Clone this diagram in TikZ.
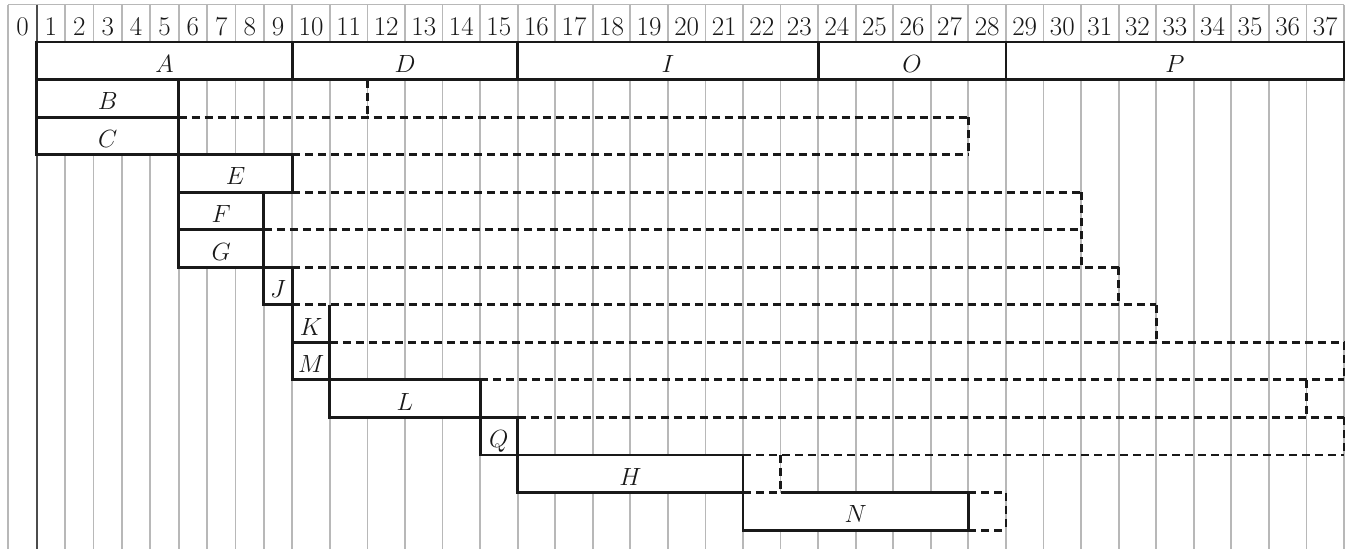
\documentclass[tikz,border=0pt]{standalone}
\begin{document}
\begin{tikzpicture}[x=1pt,y=-1pt,
  declare function={tx(\p)=(\p<9.5)*(36.7+28.4*\p)+(\p>9.5)*(292.3+37.56*(\p-9)); ry(\p)=4.5+37.54*\p;},
  gridline/.style={draw=black!28, line width=1.8},
  zeroline/.style={draw=black!70, line width=1.8},
  taskbox/.style={draw=black!90, line width=2.9, fill=white},
  taskedge/.style={draw=black!90, line width=2.9},
  slackline/.style={draw=black!90, line width=2.9, dash pattern=on 8 off 5},
  lbl/.style={font=\fontsize{27}{32}\selectfont, text=black!90, inner sep=0pt, anchor=base},
]
\useasboundingbox (0,0) rectangle (1352,549);
% grid
\foreach \k in {-1,0,...,37} \draw[gridline] ({tx(\k)},{ry(0)}) -- ({tx(\k)},549);
\draw[gridline] ({tx(-1)},{ry(0)}) -- ({tx(37)},{ry(0)});
\draw[zeroline] ({tx(0)},{ry(0)}) -- ({tx(0)},549);
% header numbers
\foreach \k in {0,...,37} \node[lbl] (h\k) at ({(tx(\k-1)+tx(\k))/2},{ry(0)+30.6}) {\k};
% task bars
\newcommand\taskbar[4]{%
  \draw[taskbox] ({tx(#3)},{ry(#2)}) rectangle ({tx(#4)},{ry(#2+1)});
  \node[lbl] (n#1) at ({(tx(#3)+tx(#4))/2},{ry(#2)+30.3}) {$#1$};}
\taskbar{A}{1}{0}{9}
\taskbar{D}{1}{9}{15}
\taskbar{I}{1}{15}{23}
\taskbar{O}{1}{23}{28}
\taskbar{P}{1}{28}{37}
\taskbar{B}{2}{0}{5}
\taskbar{C}{3}{0}{5}
\taskbar{E}{4}{5}{9}
\taskbar{F}{5}{5}{8}
\taskbar{G}{6}{5}{8}
\taskbar{J}{7}{8}{9}
\taskbar{M}{9}{9}{10}
\taskbar{L}{10}{10}{14}
\taskbar{Q}{11}{14}{15}
\taskbar{H}{12}{15}{21}
% K (top edge dashed)
\fill[white] ({tx(9)},{ry(8)}) rectangle ({tx(10)},{ry(9)});
\draw[taskedge] ({tx(9)},{ry(8)}) -- ({tx(9)},{ry(9)}) -- ({tx(10)},{ry(9)}) -- ({tx(10)},{ry(8)});
\node[lbl] (nK) at ({(tx(9)+tx(10))/2},{ry(8)+30.3}) {$K$};
% N (part of top edge dashed)
\fill[white] ({tx(21)},{ry(13)}) rectangle ({tx(27)},{ry(14)});
\draw[taskedge] ({tx(22)},{ry(13)}) -- ({tx(27)},{ry(13)}) -- ({tx(27)},{ry(14)}) -- ({tx(21)},{ry(14)}) -- ({tx(21)},{ry(13)});
\node[lbl] (nN) at ({(tx(21)+tx(27))/2},{ry(13)+30.3}) {$N$};
% slack: horizontal dashed lines
\draw[slackline] ({tx(5)},{ry(3)}) -- ({tx(27)},{ry(3)});
\draw[slackline] ({tx(9)},{ry(4)}) -- ({tx(27)},{ry(4)});
\draw[slackline] ({tx(9)},{ry(5)}) -- ({tx(30)},{ry(5)});
\draw[slackline] ({tx(8)},{ry(6)}) -- ({tx(30)},{ry(6)});
\draw[slackline] ({tx(9)},{ry(7)}) -- ({tx(31)},{ry(7)});
\draw[slackline] ({tx(9)},{ry(8)}) -- ({tx(32)},{ry(8)});
\draw[slackline] ({tx(10)},{ry(9)}) -- ({tx(37)},{ry(9)});
\draw[slackline] ({tx(14)},{ry(10)}) -- ({tx(37)},{ry(10)});
\draw[slackline] ({tx(15)},{ry(11)}) -- ({tx(37)},{ry(11)});
\draw[slackline] ({tx(21)},{ry(12)}) -- ({tx(37)},{ry(12)});
\draw[slackline] ({tx(21)},{ry(13)}) -- ({tx(22)},{ry(13)});
\draw[slackline] ({tx(27)},{ry(13)}) -- ({tx(28)},{ry(13)});
\draw[slackline] ({tx(27)},{ry(14)}) -- ({tx(28)},{ry(14)});
% slack: vertical dashed lines
\draw[slackline] ({tx(11)},{ry(2)}) -- ({tx(11)},{ry(3)});
\draw[slackline] ({tx(27)},{ry(3)}) -- ({tx(27)},{ry(4)});
\draw[slackline] ({tx(30)},{ry(5)}) -- ({tx(30)},{ry(7)});
\draw[slackline] ({tx(31)},{ry(7)}) -- ({tx(31)},{ry(8)});
\draw[slackline] ({tx(32)},{ry(8)}) -- ({tx(32)},{ry(9)});
\draw[slackline] ({tx(37)},{ry(9)}) -- ({tx(37)},{ry(10)});
\draw[slackline] ({tx(36)},{ry(10)}) -- ({tx(36)},{ry(11)});
\draw[slackline] ({tx(37)},{ry(11)}) -- ({tx(37)},{ry(12)});
\draw[slackline] ({tx(22)},{ry(12)}) -- ({tx(22)},{ry(13)});
\draw[slackline] ({tx(28)},{ry(13)}) -- ({tx(28)},{ry(14)});
\end{tikzpicture}
\end{document}
